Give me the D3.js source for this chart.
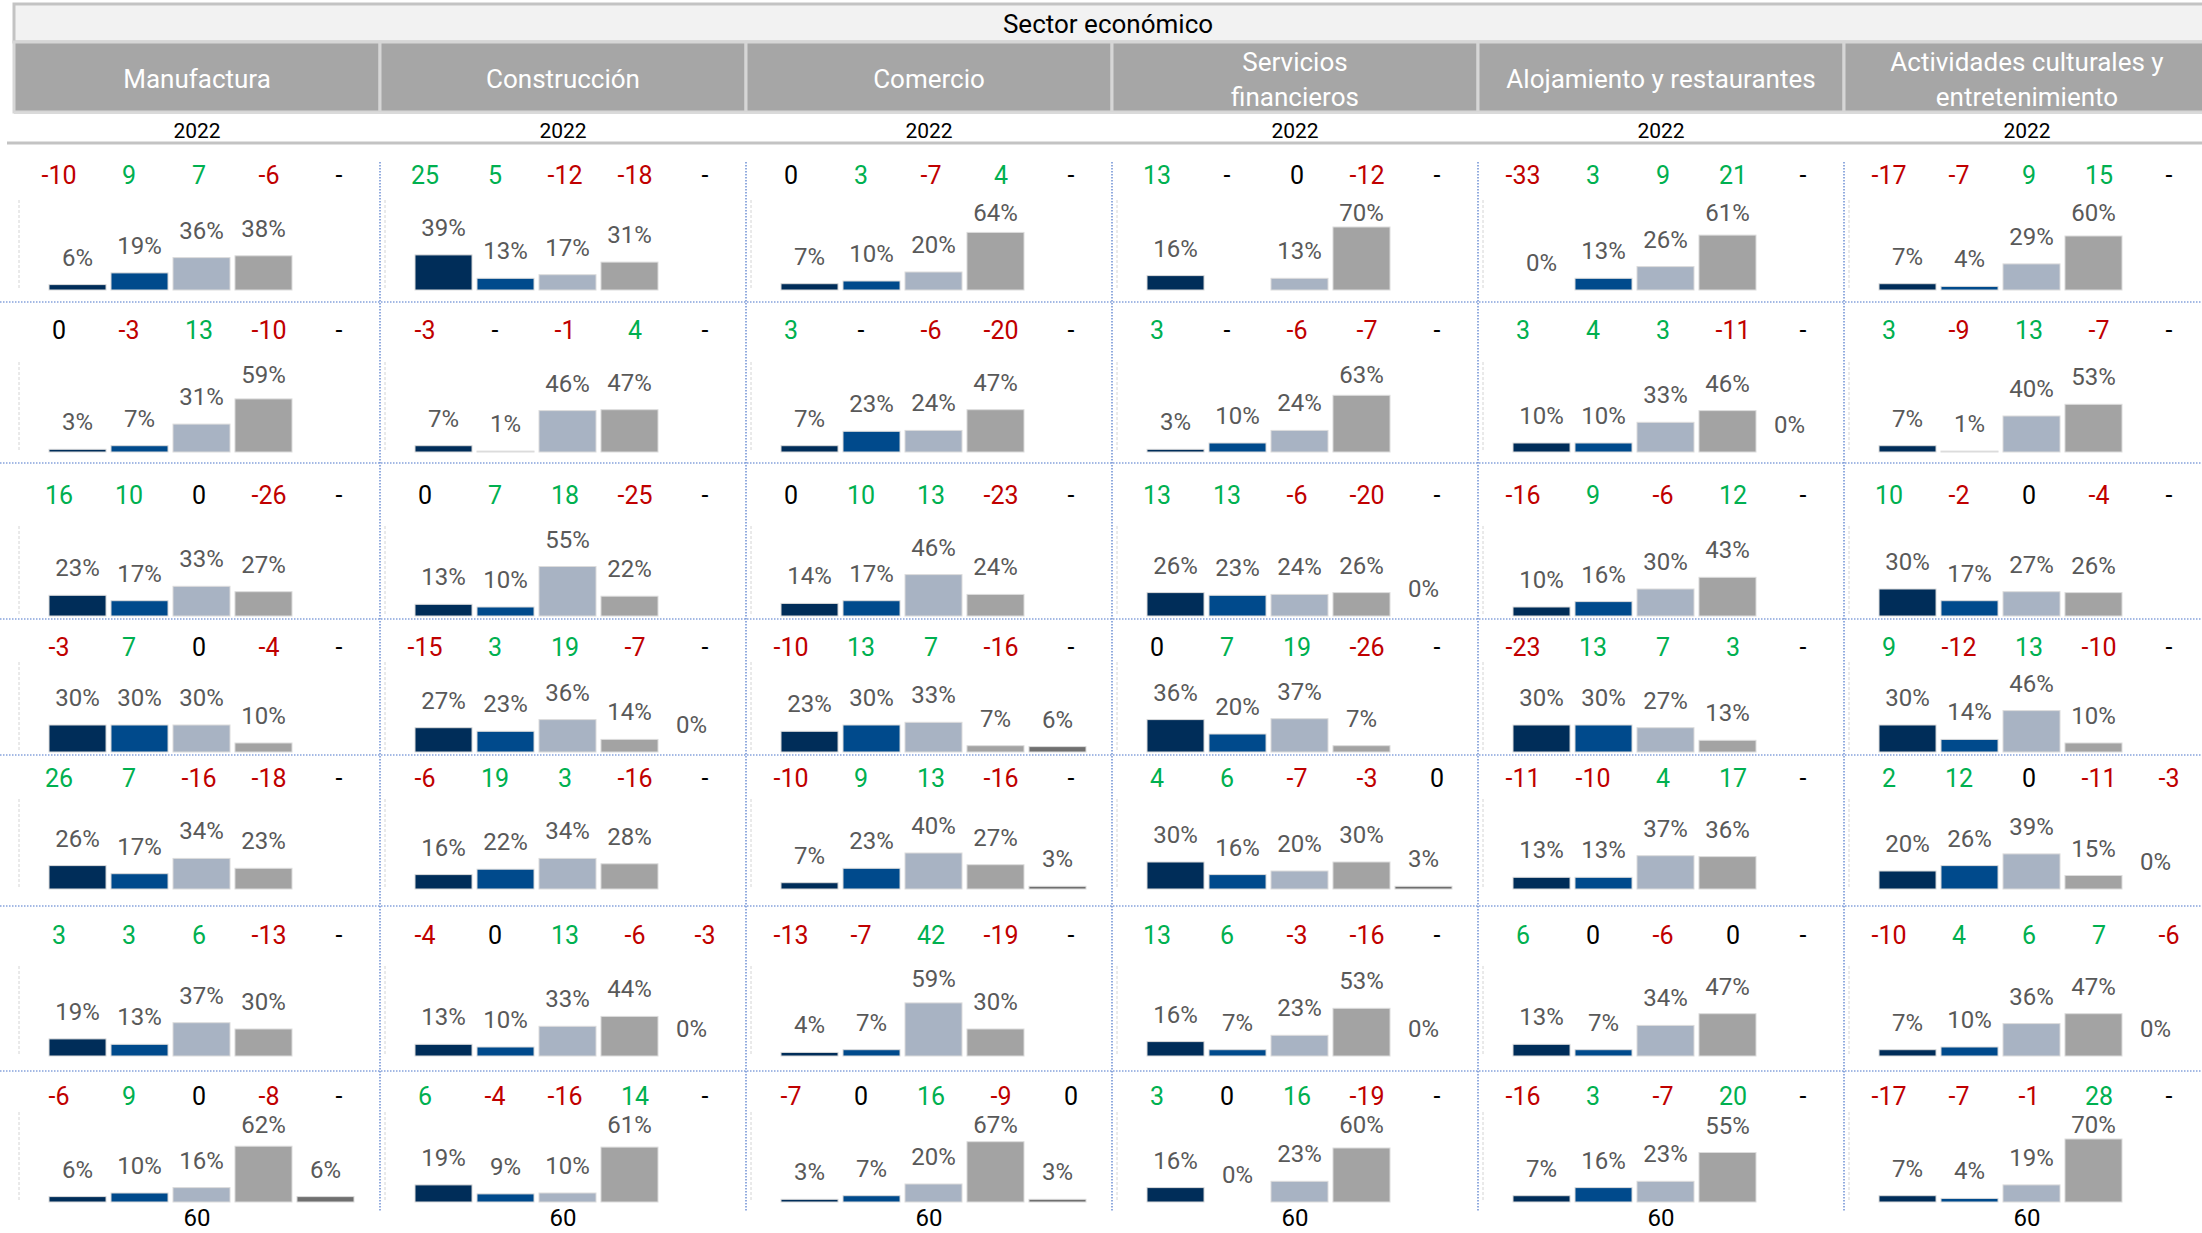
<!DOCTYPE html>
<html>
<head>
<meta charset="utf-8">
<title>Sector económico</title>
<script src="https://d3js.org/d3.v7.min.js"></script>
<style>
  body { margin: 0; background: #fff; }
  text { font-family: Roboto, "Liberation Sans", sans-serif; }
</style>
</head>
<body>
<div id="chart"></div>
<script>
// datos
const title = "Sector económico";
const sectors = ["Manufactura", "Construcción", "Comercio", "Servicios financieros",
                 "Alojamiento y restaurantes", "Actividades culturales y entretenimiento"];
const headerLines = [["Manufactura"], ["Construcción"], ["Comercio"], ["Servicios", "financieros"],
                     ["Alojamiento y restaurantes"], ["Actividades culturales y", "entretenimiento"]];
const yearLabel = "2022";
const bottomLabel = "60";

// porcentajes por fila (6 sectores x 5 barras), null = sin barra
const pctR1 = [[6,19,36,38,null],[39,13,17,31,null],[7,10,20,64,null],[16,null,13,70,null],[0,13,26,61,null],[7,4,29,60,null]];
const pctR2 = [[3,7,31,59,null],[7,1,46,47,null],[7,23,24,47,null],[3,10,24,63,null],[10,10,33,46,0],[7,1,40,53,null]];
const pctR3 = [[23,17,33,27,null],[13,10,55,22,null],[14,17,46,24,null],[26,23,24,26,0],[10,16,30,43,null],[30,17,27,26,null]];
const pctR4 = [[30,30,30,10,null],[27,23,36,14,0],[23,30,33,7,6],[36,20,37,7,null],[30,30,27,13,null],[30,14,46,10,null]];
const pctR5 = [[26,17,34,23,null],[16,22,34,28,null],[7,23,40,27,3],[30,16,20,30,3],[13,13,37,36,null],[20,26,39,15,0]];
const pctR6 = [[19,13,37,30,null],[13,10,33,44,0],[4,7,59,30,null],[16,7,23,53,0],[13,7,34,47,null],[7,10,36,47,0]];
const pctR7 = [[6,10,16,62,6],[19,9,10,61,null],[3,7,20,67,3],[16,0,23,60,null],[7,16,23,55,null],[7,4,19,70,null]];

// variaciones por fila, null = "-"
const chgR1 = [[-10,9,7,-6,null],[25,5,-12,-18,null],[0,3,-7,4,null],[13,null,0,-12,null],[-33,3,9,21,null],[-17,-7,9,15,null]];
const chgR2 = [[0,-3,13,-10,null],[-3,null,-1,4,null],[3,null,-6,-20,null],[3,null,-6,-7,null],[3,4,3,-11,null],[3,-9,13,-7,null]];
const chgR3 = [[16,10,0,-26,null],[0,7,18,-25,null],[0,10,13,-23,null],[13,13,-6,-20,null],[-16,9,-6,12,null],[10,-2,0,-4,null]];
const chgR4 = [[-3,7,0,-4,null],[-15,3,19,-7,null],[-10,13,7,-16,null],[0,7,19,-26,null],[-23,13,7,3,null],[9,-12,13,-10,null]];
const chgR5 = [[26,7,-16,-18,null],[-6,19,3,-16,null],[-10,9,13,-16,null],[4,6,-7,-3,0],[-11,-10,4,17,null],[2,12,0,-11,-3]];
const chgR6 = [[3,3,6,-13,null],[-4,0,13,-6,-3],[-13,-7,42,-19,null],[13,6,-3,-16,null],[6,0,-6,0,null],[-10,4,6,7,-6]];
const chgR7 = [[-6,9,0,-8,null],[6,-4,-16,14,null],[-7,0,16,-9,0],[3,0,16,-19,null],[-16,3,-7,20,null],[-17,-7,-1,28,null]];

const pctRows = [pctR1, pctR2, pctR3, pctR4, pctR5, pctR6, pctR7];
const chgRows = [chgR1, chgR2, chgR3, chgR4, chgR5, chgR6, chgR7];

const seriesColors = ["#002d59", "#004a8c", "#a8b3c3", "#a3a3a3", "#6f6f6f"];

// disposicion de filas
const rowLines = [302, 463, 619, 755, 906, 1071];
const numY = [175, 330, 495, 647, 778, 935, 1096];
const baseY = [290, 452, 616, 752, 889, 1056, 1202];

const W = 2202, H = 1233;
const svg = d3.select("#chart").append("svg")
    .attr("width", W).attr("height", H);

const colX = d3.scaleBand().domain(d3.range(6)).range([14, 14 + 366 * 6]);
const barX = d3.scaleBand().domain(d3.range(5)).range([35, 340]).paddingInner(0.08);
const numX = d3.scalePoint().domain(d3.range(5)).range([45, 325]);
const barH = d3.scaleLinear().domain([0, 100]).range([0, 90]);

// cabecera
svg.append("rect")
    .attr("x", 14).attr("y", 4).attr("width", W).attr("height", 38)
    .attr("fill", "#f2f2f2").attr("stroke", "#c3c3c3").attr("stroke-width", 3);
svg.append("text")
    .attr("x", (14 + W) / 2).attr("y", 33)
    .attr("text-anchor", "middle").attr("font-size", 26).attr("fill", "#000")
    .text(title);

const head = svg.append("g");
head.selectAll("rect").data(sectors).enter().append("rect")
    .attr("x", (d, i) => colX(i)).attr("y", 42)
    .attr("width", colX.bandwidth()).attr("height", 70)
    .attr("fill", "#a6a6a6").attr("stroke", "#d6d6d6").attr("stroke-width", 3);
head.selectAll("text").data(headerLines).enter().append("text")
    .attr("text-anchor", "middle").attr("font-size", 26).attr("fill", "#fff")
    .each(function(lines, i) {
        let t = d3.select(this);
        let y0 = 88 - (lines.length - 1) * 17.5;
        lines.forEach(function(l, k) {
            t.append("tspan").attr("x", colX(i) + colX.bandwidth() / 2)
             .attr("y", y0 + k * 35).text(l);
        });
    });

svg.append("line").attr("x1", 14).attr("x2", W).attr("y1", 113).attr("y2", 113)
    .attr("stroke", "#dadada").attr("stroke-width", 2);
svg.append("line").attr("x1", 7).attr("x2", W).attr("y1", 143).attr("y2", 143)
    .attr("stroke", "#c3c3c3").attr("stroke-width", 3);

svg.append("g").selectAll("text").data(sectors).enter().append("text")
    .attr("x", (d, i) => colX(i) + colX.bandwidth() / 2).attr("y", 138)
    .attr("text-anchor", "middle").attr("font-size", 21).attr("fill", "#000")
    .text(yearLabel);

// lineas punteadas de la cuadricula
let grid = svg.append("g")
    .attr("stroke", "#4a74c9").attr("stroke-width", 1.2).attr("stroke-dasharray", "1.5,1.5");
grid.selectAll("line.h").data(rowLines).enter().append("line")
    .attr("x1", 0).attr("x2", W).attr("y1", d => d).attr("y2", d => d);
grid.selectAll("line.v").data(d3.range(1, 6)).enter().append("line")
    .attr("x1", d => colX(d)).attr("x2", d => colX(d)).attr("y1", 162).attr("y2", 1212);

// celdas
pctRows.forEach(function(row, r) {
    row.forEach(function(vals, c) {
        let g = svg.append("g").attr("transform", "translate(" + colX(c) + ",0)");
        let by = baseY[r];

        g.append("line").attr("x1", 5).attr("x2", 5)
            .attr("y1", by - 90).attr("y2", by)
            .attr("stroke", "#d4d4d4").attr("stroke-dasharray", "3,2");

        let cells = vals.map((v, i) => ({i: i, v: v})).filter(d => d.v !== null);

        g.selectAll("rect").data(cells).enter().append("rect")
            .attr("x", d => barX(d.i))
            .attr("y", d => by - barH(d.v))
            .attr("width", barX.bandwidth())
            .attr("height", d => barH(d.v))
            .attr("fill", d => seriesColors[d.i])
            .attr("stroke", "#dcdcdc").attr("stroke-width", 1);

        g.selectAll("text.pct").data(cells).enter().append("text")
            .attr("class", "pct")
            .attr("x", d => barX(d.i) + barX.bandwidth() / 2)
            .attr("y", d => Math.max(by - barH(d.v) - 19, by - 69))
            .attr("text-anchor", "middle").attr("font-size", 24).attr("fill", "#595959")
            .text(d => d.v + "%");

        let chg = chgRows[r][c];
        g.selectAll("text.chg").data(chg).enter().append("text")
            .attr("class", "chg")
            .attr("x", (d, i) => numX(i))
            .attr("y", numY[r] + 9)
            .attr("text-anchor", "middle").attr("font-size", 25)
            .attr("fill", d => d === null || d === 0 ? "#000" : (d > 0 ? "#00b050" : "#c00000"))
            .text(d => d === null ? "-" : d);
    });
});

// fila inferior
svg.append("g").selectAll("text").data(sectors).enter().append("text")
    .attr("x", (d, i) => colX(i) + colX.bandwidth() / 2).attr("y", 1226)
    .attr("text-anchor", "middle").attr("font-size", 24).attr("fill", "#000")
    .text(bottomLabel);
</script>
</body>
</html>
